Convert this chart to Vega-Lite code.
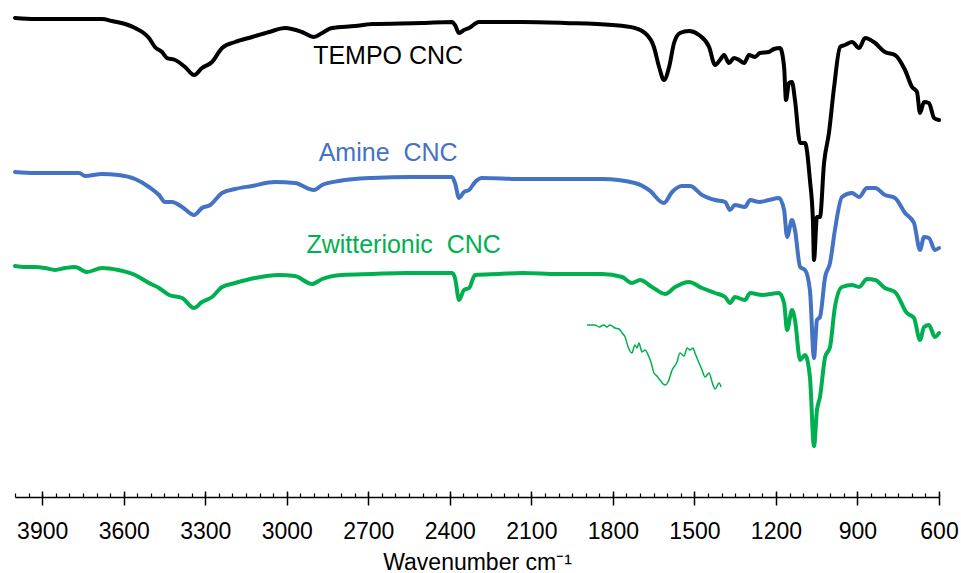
{
  "$schema": "https://vega.github.io/schema/vega-lite/v6.json",
  "width": 924,
  "height": 497,
  "padding": {"left": 13, "top": 0, "right": 0, "bottom": 0},
  "config": {"view": {"stroke": null}, "font": "Liberation Sans"},
  "datasets": {
    "spectra": [
      {"s":"Zwitterionic","wn":4000,"v":231},{"s":"Zwitterionic","wn":3960,"v":230},{"s":"Zwitterionic","wn":3926,"v":230},{"s":"Zwitterionic","wn":3890,"v":229},{"s":"Zwitterionic","wn":3853,"v":227},{"s":"Zwitterionic","wn":3815,"v":229},{"s":"Zwitterionic","wn":3779,"v":230},{"s":"Zwitterionic","wn":3735,"v":225},{"s":"Zwitterionic","wn":3680,"v":229},{"s":"Zwitterionic","wn":3620,"v":227},{"s":"Zwitterionic","wn":3558,"v":222},{"s":"Zwitterionic","wn":3507,"v":214},{"s":"Zwitterionic","wn":3470,"v":209},{"s":"Zwitterionic","wn":3433,"v":202},{"s":"Zwitterionic","wn":3385,"v":199},{"s":"Zwitterionic","wn":3341,"v":189},{"s":"Zwitterionic","wn":3312,"v":195},{"s":"Zwitterionic","wn":3275,"v":200},{"s":"Zwitterionic","wn":3238,"v":210},{"s":"Zwitterionic","wn":3190,"v":214},{"s":"Zwitterionic","wn":3117,"v":219},{"s":"Zwitterionic","wn":3029,"v":222},{"s":"Zwitterionic","wn":2970,"v":221},{"s":"Zwitterionic","wn":2907,"v":213},{"s":"Zwitterionic","wn":2870,"v":218},{"s":"Zwitterionic","wn":2797,"v":222},{"s":"Zwitterionic","wn":2686,"v":223},{"s":"Zwitterionic","wn":2560,"v":224},{"s":"Zwitterionic","wn":2392,"v":224},{"s":"Zwitterionic","wn":2381,"v":219},{"s":"Zwitterionic","wn":2366,"v":197},{"s":"Zwitterionic","wn":2348,"v":207},{"s":"Zwitterionic","wn":2329,"v":209},{"s":"Zwitterionic","wn":2307,"v":222},{"s":"Zwitterionic","wn":2220,"v":223},{"s":"Zwitterionic","wn":2134,"v":224},{"s":"Zwitterionic","wn":2000,"v":223},{"s":"Zwitterionic","wn":1840,"v":223},{"s":"Zwitterionic","wn":1766,"v":220},{"s":"Zwitterionic","wn":1730,"v":214},{"s":"Zwitterionic","wn":1700,"v":217},{"s":"Zwitterionic","wn":1656,"v":210},{"s":"Zwitterionic","wn":1608,"v":203},{"s":"Zwitterionic","wn":1571,"v":210},{"s":"Zwitterionic","wn":1520,"v":215},{"s":"Zwitterionic","wn":1472,"v":209},{"s":"Zwitterionic","wn":1424,"v":204},{"s":"Zwitterionic","wn":1387,"v":200},{"s":"Zwitterionic","wn":1369,"v":194},{"s":"Zwitterionic","wn":1351,"v":200},{"s":"Zwitterionic","wn":1314,"v":197},{"s":"Zwitterionic","wn":1295,"v":204},{"s":"Zwitterionic","wn":1251,"v":202},{"s":"Zwitterionic","wn":1189,"v":204},{"s":"Zwitterionic","wn":1170,"v":194},{"s":"Zwitterionic","wn":1159,"v":167},{"s":"Zwitterionic","wn":1141,"v":187},{"s":"Zwitterionic","wn":1130,"v":177},{"s":"Zwitterionic","wn":1111,"v":137},{"s":"Zwitterionic","wn":1093,"v":142},{"s":"Zwitterionic","wn":1075,"v":120},{"s":"Zwitterionic","wn":1060,"v":51},{"s":"Zwitterionic","wn":1049,"v":87},{"s":"Zwitterionic","wn":1038,"v":100},{"s":"Zwitterionic","wn":1019,"v":140},{"s":"Zwitterionic","wn":1001,"v":150},{"s":"Zwitterionic","wn":983,"v":190},{"s":"Zwitterionic","wn":957,"v":210},{"s":"Zwitterionic","wn":920,"v":212},{"s":"Zwitterionic","wn":894,"v":210},{"s":"Zwitterionic","wn":865,"v":218},{"s":"Zwitterionic","wn":835,"v":217},{"s":"Zwitterionic","wn":799,"v":209},{"s":"Zwitterionic","wn":762,"v":205},{"s":"Zwitterionic","wn":718,"v":184},{"s":"Zwitterionic","wn":692,"v":179},{"s":"Zwitterionic","wn":670,"v":157},{"s":"Zwitterionic","wn":655,"v":170},{"s":"Zwitterionic","wn":637,"v":172},{"s":"Zwitterionic","wn":615,"v":160},{"s":"Zwitterionic","wn":600,"v":164},
      {"s":"Amine","wn":4000,"v":325},{"s":"Amine","wn":3926,"v":324},{"s":"Amine","wn":3850,"v":324},{"s":"Amine","wn":3764,"v":324},{"s":"Amine","wn":3742,"v":321},{"s":"Amine","wn":3680,"v":323},{"s":"Amine","wn":3620,"v":322},{"s":"Amine","wn":3558,"v":318},{"s":"Amine","wn":3507,"v":310},{"s":"Amine","wn":3470,"v":302},{"s":"Amine","wn":3448,"v":295},{"s":"Amine","wn":3422,"v":295},{"s":"Amine","wn":3385,"v":290},{"s":"Amine","wn":3341,"v":282},{"s":"Amine","wn":3312,"v":289},{"s":"Amine","wn":3282,"v":292},{"s":"Amine","wn":3238,"v":304},{"s":"Amine","wn":3190,"v":308},{"s":"Amine","wn":3128,"v":311},{"s":"Amine","wn":3043,"v":315},{"s":"Amine","wn":2970,"v":314},{"s":"Amine","wn":2900,"v":307},{"s":"Amine","wn":2870,"v":312},{"s":"Amine","wn":2808,"v":316},{"s":"Amine","wn":2686,"v":319},{"s":"Amine","wn":2540,"v":320},{"s":"Amine","wn":2392,"v":320},{"s":"Amine","wn":2381,"v":314},{"s":"Amine","wn":2366,"v":299},{"s":"Amine","wn":2348,"v":305},{"s":"Amine","wn":2329,"v":307},{"s":"Amine","wn":2307,"v":315},{"s":"Amine","wn":2282,"v":319},{"s":"Amine","wn":2134,"v":318},{"s":"Amine","wn":2000,"v":318},{"s":"Amine","wn":1840,"v":318},{"s":"Amine","wn":1719,"v":314},{"s":"Amine","wn":1667,"v":307},{"s":"Amine","wn":1612,"v":294},{"s":"Amine","wn":1582,"v":305},{"s":"Amine","wn":1546,"v":311},{"s":"Amine","wn":1516,"v":311},{"s":"Amine","wn":1472,"v":302},{"s":"Amine","wn":1424,"v":297},{"s":"Amine","wn":1387,"v":295},{"s":"Amine","wn":1369,"v":287},{"s":"Amine","wn":1351,"v":292},{"s":"Amine","wn":1314,"v":290},{"s":"Amine","wn":1295,"v":297},{"s":"Amine","wn":1262,"v":295},{"s":"Amine","wn":1226,"v":297},{"s":"Amine","wn":1189,"v":299},{"s":"Amine","wn":1170,"v":287},{"s":"Amine","wn":1159,"v":260},{"s":"Amine","wn":1141,"v":277},{"s":"Amine","wn":1130,"v":267},{"s":"Amine","wn":1111,"v":230},{"s":"Amine","wn":1093,"v":227},{"s":"Amine","wn":1075,"v":207},{"s":"Amine","wn":1060,"v":139},{"s":"Amine","wn":1049,"v":177},{"s":"Amine","wn":1038,"v":180},{"s":"Amine","wn":1019,"v":220},{"s":"Amine","wn":1001,"v":234},{"s":"Amine","wn":983,"v":267},{"s":"Amine","wn":957,"v":300},{"s":"Amine","wn":920,"v":304},{"s":"Amine","wn":894,"v":300},{"s":"Amine","wn":865,"v":309},{"s":"Amine","wn":835,"v":309},{"s":"Amine","wn":799,"v":302},{"s":"Amine","wn":762,"v":299},{"s":"Amine","wn":725,"v":284},{"s":"Amine","wn":692,"v":274},{"s":"Amine","wn":670,"v":247},{"s":"Amine","wn":655,"v":260},{"s":"Amine","wn":637,"v":259},{"s":"Amine","wn":615,"v":247},{"s":"Amine","wn":600,"v":249},
      {"s":"TEMPO","wn":4000,"v":479},{"s":"TEMPO","wn":3926,"v":478},{"s":"TEMPO","wn":3800,"v":478},{"s":"TEMPO","wn":3680,"v":478},{"s":"TEMPO","wn":3643,"v":476},{"s":"TEMPO","wn":3558,"v":469},{"s":"TEMPO","wn":3507,"v":459},{"s":"TEMPO","wn":3485,"v":450},{"s":"TEMPO","wn":3459,"v":445},{"s":"TEMPO","wn":3441,"v":439},{"s":"TEMPO","wn":3411,"v":437},{"s":"TEMPO","wn":3374,"v":430},{"s":"TEMPO","wn":3341,"v":422},{"s":"TEMPO","wn":3312,"v":429},{"s":"TEMPO","wn":3275,"v":435},{"s":"TEMPO","wn":3238,"v":449},{"s":"TEMPO","wn":3190,"v":455},{"s":"TEMPO","wn":3128,"v":460},{"s":"TEMPO","wn":3065,"v":465},{"s":"TEMPO","wn":3006,"v":469},{"s":"TEMPO","wn":2944,"v":465},{"s":"TEMPO","wn":2900,"v":460},{"s":"TEMPO","wn":2870,"v":464},{"s":"TEMPO","wn":2834,"v":469},{"s":"TEMPO","wn":2749,"v":471},{"s":"TEMPO","wn":2686,"v":473},{"s":"TEMPO","wn":2502,"v":474},{"s":"TEMPO","wn":2392,"v":475},{"s":"TEMPO","wn":2381,"v":472},{"s":"TEMPO","wn":2366,"v":464},{"s":"TEMPO","wn":2348,"v":467},{"s":"TEMPO","wn":2329,"v":469},{"s":"TEMPO","wn":2293,"v":475},{"s":"TEMPO","wn":2134,"v":475},{"s":"TEMPO","wn":1976,"v":474},{"s":"TEMPO","wn":1803,"v":472},{"s":"TEMPO","wn":1719,"v":469},{"s":"TEMPO","wn":1682,"v":464},{"s":"TEMPO","wn":1649,"v":450},{"s":"TEMPO","wn":1630,"v":430},{"s":"TEMPO","wn":1612,"v":417},{"s":"TEMPO","wn":1593,"v":430},{"s":"TEMPO","wn":1575,"v":454},{"s":"TEMPO","wn":1553,"v":464},{"s":"TEMPO","wn":1520,"v":466},{"s":"TEMPO","wn":1483,"v":462},{"s":"TEMPO","wn":1446,"v":450},{"s":"TEMPO","wn":1424,"v":432},{"s":"TEMPO","wn":1406,"v":437},{"s":"TEMPO","wn":1391,"v":442},{"s":"TEMPO","wn":1373,"v":434},{"s":"TEMPO","wn":1354,"v":439},{"s":"TEMPO","wn":1336,"v":437},{"s":"TEMPO","wn":1317,"v":434},{"s":"TEMPO","wn":1299,"v":442},{"s":"TEMPO","wn":1277,"v":440},{"s":"TEMPO","wn":1259,"v":444},{"s":"TEMPO","wn":1226,"v":445},{"s":"TEMPO","wn":1207,"v":448},{"s":"TEMPO","wn":1185,"v":449},{"s":"TEMPO","wn":1170,"v":430},{"s":"TEMPO","wn":1163,"v":397},{"s":"TEMPO","wn":1152,"v":414},{"s":"TEMPO","wn":1141,"v":415},{"s":"TEMPO","wn":1130,"v":397},{"s":"TEMPO","wn":1111,"v":354},{"s":"TEMPO","wn":1093,"v":354},{"s":"TEMPO","wn":1075,"v":317},{"s":"TEMPO","wn":1064,"v":277},{"s":"TEMPO","wn":1060,"v":237},{"s":"TEMPO","wn":1049,"v":280},{"s":"TEMPO","wn":1038,"v":280},{"s":"TEMPO","wn":1023,"v":334},{"s":"TEMPO","wn":1005,"v":364},{"s":"TEMPO","wn":986,"v":410},{"s":"TEMPO","wn":964,"v":450},{"s":"TEMPO","wn":946,"v":452},{"s":"TEMPO","wn":920,"v":455},{"s":"TEMPO","wn":894,"v":449},{"s":"TEMPO","wn":872,"v":459},{"s":"TEMPO","wn":835,"v":454},{"s":"TEMPO","wn":799,"v":445},{"s":"TEMPO","wn":762,"v":442},{"s":"TEMPO","wn":725,"v":427},{"s":"TEMPO","wn":699,"v":410},{"s":"TEMPO","wn":681,"v":405},{"s":"TEMPO","wn":670,"v":384},{"s":"TEMPO","wn":655,"v":395},{"s":"TEMPO","wn":637,"v":394},{"s":"TEMPO","wn":618,"v":379},{"s":"TEMPO","wn":600,"v":377}
    ],
    "inset": [
      {"s":"Zwitterionic","wn":1895,"v":172},{"s":"Zwitterionic","wn":1866,"v":172},{"s":"Zwitterionic","wn":1851,"v":170},{"s":"Zwitterionic","wn":1833,"v":172},{"s":"Zwitterionic","wn":1822,"v":170},{"s":"Zwitterionic","wn":1811,"v":172},{"s":"Zwitterionic","wn":1792,"v":169},{"s":"Zwitterionic","wn":1777,"v":168},{"s":"Zwitterionic","wn":1766,"v":164},{"s":"Zwitterionic","wn":1755,"v":160},{"s":"Zwitterionic","wn":1744,"v":150},{"s":"Zwitterionic","wn":1730,"v":144},{"s":"Zwitterionic","wn":1719,"v":152},{"s":"Zwitterionic","wn":1711,"v":149},{"s":"Zwitterionic","wn":1704,"v":154},{"s":"Zwitterionic","wn":1693,"v":145},{"s":"Zwitterionic","wn":1682,"v":147},{"s":"Zwitterionic","wn":1667,"v":140},{"s":"Zwitterionic","wn":1660,"v":135},{"s":"Zwitterionic","wn":1649,"v":124},{"s":"Zwitterionic","wn":1638,"v":121},{"s":"Zwitterionic","wn":1627,"v":117},{"s":"Zwitterionic","wn":1608,"v":112},{"s":"Zwitterionic","wn":1597,"v":115},{"s":"Zwitterionic","wn":1582,"v":127},{"s":"Zwitterionic","wn":1564,"v":135},{"s":"Zwitterionic","wn":1553,"v":144},{"s":"Zwitterionic","wn":1538,"v":141},{"s":"Zwitterionic","wn":1527,"v":149},{"s":"Zwitterionic","wn":1516,"v":147},{"s":"Zwitterionic","wn":1505,"v":149},{"s":"Zwitterionic","wn":1498,"v":144},{"s":"Zwitterionic","wn":1483,"v":134},{"s":"Zwitterionic","wn":1472,"v":127},{"s":"Zwitterionic","wn":1461,"v":120},{"s":"Zwitterionic","wn":1446,"v":124},{"s":"Zwitterionic","wn":1435,"v":115},{"s":"Zwitterionic","wn":1424,"v":108},{"s":"Zwitterionic","wn":1409,"v":114},{"s":"Zwitterionic","wn":1402,"v":110}
    ],
    "labels": [
      {"s":"TEMPO","label":"TEMPO CNC","wn":2627,"v":441},
      {"s":"Amine","label":"Amine\u00a0 CNC","wn":2627,"v":344},
      {"s":"Zwitterionic","label":"Zwitterionic\u00a0 CNC","wn":2570,"v":252}
    ]
  },
  "layer": [
    {
      "data": {"name": "spectra"},
      "mark": {"type": "line", "strokeWidth": 4, "strokeJoin": "round", "strokeCap": "round", "interpolate": "monotone"},
      "encoding": {
        "x": {"field": "wn", "type": "quantitative",
          "scale": {"domain": [600, 4000], "reverse": true, "nice": false, "zero": false},
          "axis": {"orient": "bottom", "values": [3900, 3600, 3300, 3000, 2700, 2400, 2100, 1800, 1500, 1200, 900, 600], "format": "d",
            "grid": false, "domainColor": "#000000", "domainWidth": 1.5, "tickColor": "#000000", "tickWidth": 1.5, "tickSize": 8,
            "labelFontSize": 23, "labelColor": "#000000", "labelPadding": 15, "labelFont": "Liberation Sans", "labelOverlap": false, "labelFlush": false, "labelBound": false,
            "title": "Wavenumber  cm⁻¹", "titleFontSize": 23, "titleFontWeight": "normal", "titleColor": "#000000", "titleFont": "Liberation Sans", "titlePadding": 8}},
        "y": {"field": "v", "type": "quantitative", "scale": {"domain": [0, 497], "nice": false, "zero": false}, "axis": null},
        "color": {"field": "s", "type": "nominal", "scale": {"domain": ["Zwitterionic", "Amine", "TEMPO"], "range": ["#00B050", "#4472C4", "#000000"]}, "legend": null}
      }
    },
    {
      "data": {"name": "inset"},
      "mark": {"type": "line", "strokeWidth": 1.5, "strokeJoin": "round", "interpolate": "monotone"},
      "encoding": {
        "x": {"field": "wn", "type": "quantitative",
          "axis": {"orient": "bottom", "values": [4000,3950,3900,3850,3800,3750,3700,3650,3600,3550,3500,3450,3400,3350,3300,3250,3200,3150,3100,3050,3000,2950,2900,2850,2800,2750,2700,2650,2600,2550,2500,2450,2400,2350,2300,2250,2200,2150,2100,2050,2000,1950,1900,1850,1800,1750,1700,1650,1600,1550,1500,1450,1400,1350,1300,1250,1200,1150,1100,1050,1000,950,900,850,800,750,700,650,600],
            "grid": false, "domain": false, "labels": false, "title": null, "tickColor": "#000000", "tickWidth": 1.2, "tickSize": -4}},
        "y": {"field": "v", "type": "quantitative"},
        "color": {"field": "s", "type": "nominal", "legend": null}
      }
    },
    {
      "data": {"name": "labels"},
      "mark": {"type": "text", "fontSize": 25, "font": "Liberation Sans", "align": "center", "baseline": "middle"},
      "encoding": {
        "x": {"field": "wn", "type": "quantitative",
          "axis": {"orient": "bottom", "values": [3900, 3600, 3300, 3000, 2700, 2400, 2100, 1800, 1500, 1200, 900, 600],
            "grid": false, "domain": false, "labels": false, "title": null, "tickColor": "#000000", "tickWidth": 1.5, "tickSize": -6}},
        "y": {"field": "v", "type": "quantitative"},
        "text": {"field": "label"},
        "color": {"field": "s", "type": "nominal", "legend": null}
      }
    }
  ],
  "resolve": {"axis": {"x": "independent"}}
}
